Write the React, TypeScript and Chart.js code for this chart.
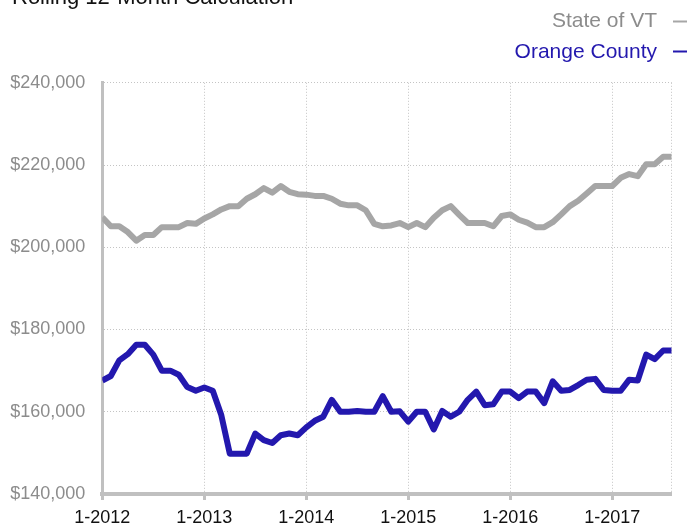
import React, { useEffect, useRef } from 'react';
import { Chart, registerables } from 'chart.js';

Chart.register(...registerables);

const TITLE = 'Rolling 12-Month Calculation';
const SERIES_NAMES = ['State of VT', 'Orange County'];
const X_TICK_LABELS = ['1-2012', '1-2013', '1-2014', '1-2015', '1-2016', '1-2017'];
const X_TICK_MONTHS = [0, 12, 24, 36, 48, 60];
const LAST_MONTH = 67;
const Y_TICKS = [140000, 160000, 180000, 200000, 220000, 240000];

// Monthly values, 1-2012 .. 8-2017
const STATE_VT = [
  207300, 205100, 205100, 203700, 201600, 203000, 203000, 204900, 204900, 204900, 205900, 205700,
  207000, 208000, 209200, 210000, 210000, 211800, 212900, 214400, 213300, 214900, 213500, 212900,
  212800, 212500, 212500, 211800, 210600, 210200, 210200, 209000, 205700, 205100, 205300, 205900,
  204900, 205900, 204900, 207200, 209000, 210000, 207900, 205900, 205900, 205900, 205100, 207600,
  208000, 206700, 206000, 204900, 204900, 206100, 208000, 210000, 211300, 213100, 214900, 214900,
  214900, 216900, 217800, 217300, 220200, 220200, 222000, 222000,
];
const ORANGE_COUNTY = [
  167600, 168700, 172500, 174000, 176300, 176300, 173900, 170000, 170000, 169000, 166000, 165100,
  165900, 165100, 159200, 149800, 149800, 149800, 154700, 153100, 152400, 154300, 154700, 154300,
  156200, 157800, 158800, 162900, 160000, 160000, 160200, 160000, 160000, 163800, 160000, 160100,
  157600, 160000, 160000, 155700, 160200, 158800, 160000, 162900, 164900, 161600, 161800, 164900,
  164900, 163300, 164900, 164900, 162100, 167400, 165100, 165300, 166500, 167800, 168000, 165300,
  165100, 165100, 167800, 167600, 173900, 172800, 174900, 174900,
];

const FONT = '"Liberation Sans", Arial, Helvetica, sans-serif';
const GRAY_LINE = '#a6a6a6';
const GRAY_TEXT = '#8c8c8c';
const BLUE = '#2318ae';
const AXIS = '#c0c0c0';
const GRID = '#c4c4c4';

const overlayPlugin = {
  id: 'overlayText',
  afterDraw(chart: any) {
    const ctx = chart.ctx as CanvasRenderingContext2D;
    ctx.save();
    ctx.textBaseline = 'alphabetic';
    ctx.font = `22px ${FONT}`;
    ctx.fillStyle = '#111111';
    ctx.textAlign = 'left';
    ctx.fillText(TITLE, 12, 4);

    ctx.font = `21px ${FONT}`;
    ctx.textAlign = 'right';
    ctx.fillStyle = GRAY_TEXT;
    ctx.fillText(SERIES_NAMES[0], 657, 27);
    ctx.fillStyle = BLUE;
    ctx.fillText(SERIES_NAMES[1], 657, 57.5);

    ctx.lineWidth = 2;
    ctx.strokeStyle = GRAY_LINE;
    ctx.beginPath();
    ctx.moveTo(673, 21.5);
    ctx.lineTo(687, 21.5);
    ctx.stroke();
    ctx.strokeStyle = BLUE;
    ctx.beginPath();
    ctx.moveTo(673, 51.5);
    ctx.lineTo(687, 51.5);
    ctx.stroke();
    ctx.restore();
  },
};

export default function App() {
  const canvasRef = useRef<HTMLCanvasElement | null>(null);

  useEffect(() => {
    if (!canvasRef.current) return;
    const chart = new Chart(canvasRef.current, {
      type: 'line',
      data: {
        datasets: [
          {
            label: SERIES_NAMES[0],
            data: STATE_VT.map((v, i) => ({ x: i, y: v })),
            borderColor: GRAY_LINE,
            borderWidth: 6,
            pointRadius: 0,
            tension: 0,
            borderJoinStyle: 'round',
          },
          {
            label: SERIES_NAMES[1],
            data: ORANGE_COUNTY.map((v, i) => ({ x: i, y: v })),
            borderColor: BLUE,
            borderWidth: 6,
            pointRadius: 0,
            tension: 0,
            borderJoinStyle: 'round',
          },
        ],
      },
      options: {
        animation: false,
        responsive: false,
        devicePixelRatio: 1,
        layout: { padding: { left: 0, right: 17.3, top: 82.8, bottom: 0 } },
        plugins: { legend: { display: false }, tooltip: { enabled: false }, title: { display: false } },
        scales: {
          x: {
            type: 'linear',
            min: 0,
            max: LAST_MONTH,
            afterBuildTicks: (s: any) => {
              s.ticks = [...X_TICK_MONTHS, LAST_MONTH].map((v) => ({ value: v }));
            },
            afterFit: (s: any) => {
              s.height = 31;
            },
            ticks: {
              autoSkip: false,
              maxRotation: 0,
              minRotation: 0,
              padding: 7,
              color: '#111111',
              font: { size: 18, family: FONT },
              callback: (v: any) => {
                const i = X_TICK_MONTHS.indexOf(Number(v));
                return i >= 0 ? X_TICK_LABELS[i] : '';
              },
            },
            grid: {
              color: GRID,
              lineWidth: 1,
              drawTicks: true,
              tickLength: 6,
              tickWidth: 3,
              tickBorderDash: [],
              tickColor: (c: any) => (c.tick && c.tick.value === LAST_MONTH ? 'rgba(0,0,0,0)' : AXIS),
            },
            border: { display: true, color: AXIS, width: 4, dash: [1, 2] },
          },
          y: {
            type: 'linear',
            min: Y_TICKS[0],
            max: Y_TICKS[Y_TICKS.length - 1],
            afterBuildTicks: (s: any) => {
              s.ticks = Y_TICKS.map((v) => ({ value: v }));
            },
            afterFit: (s: any) => {
              s.width = 102.3;
            },
            ticks: {
              padding: 17,
              color: GRAY_TEXT,
              font: { size: 18, family: FONT },
              callback: (v: any) => '$' + Number(v).toLocaleString('en-US'),
            },
            grid: { color: GRID, lineWidth: 1, drawTicks: false },
            border: { display: true, color: AXIS, width: 3, dash: [1, 2] },
          },
        },
      } as any,
      plugins: [overlayPlugin],
    });
    return () => chart.destroy();
  }, []);

  return (
    <div style={{ position: 'absolute', left: 0, top: 0, width: 689, height: 525, background: '#fff' }}>
      <canvas ref={canvasRef} width={689} height={525} style={{ display: 'block' }} />
    </div>
  );
}
